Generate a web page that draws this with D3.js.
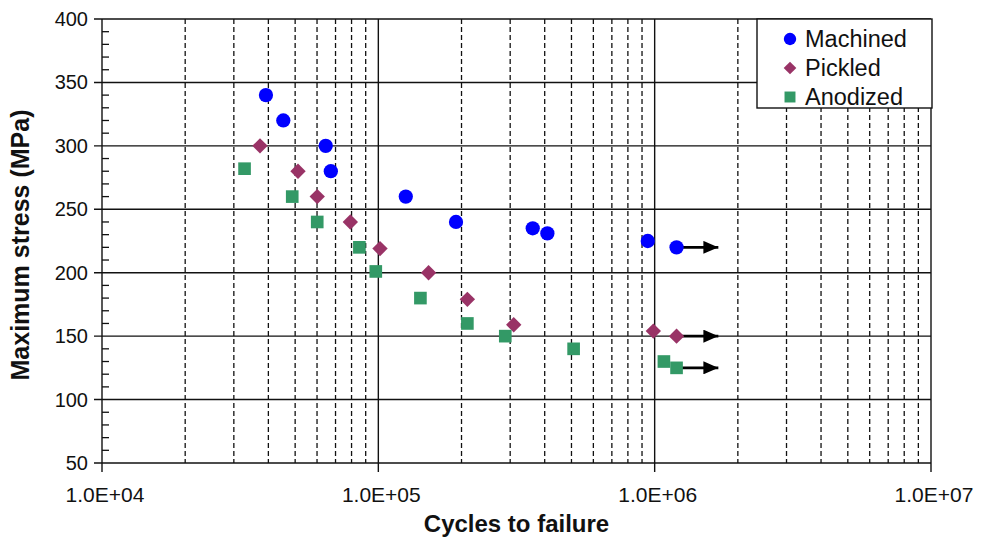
<!DOCTYPE html>
<html>
<head>
<meta charset="utf-8">
<script src="https://cdn.jsdelivr.net/npm/d3@7"></script>
<style>
  body { margin: 0; background: #fff; }
  text { font-family: Arial, "Liberation Sans", sans-serif; fill: #111; }
</style>
</head>
<body>
<script>
// data (cycles to failure, max stress in MPa)
let machinedCycles = [39200, 45300, 64500, 67300, 125700, 191000, 362000, 409000, 944000, 1200000];
let machinedStress = [340, 320, 300, 280, 260, 240, 235, 231, 225, 220];

let pickledCycles = [37300, 51200, 60100, 79200, 101400, 152000, 210000, 309000, 989000, 1200000];
let pickledStress = [300, 280, 260, 240, 219, 200, 179, 159, 154, 150];

let anodizedCycles = [32800, 48800, 60100, 85400, 97900, 142000, 210000, 288000, 509000, 1080000, 1200000];
let anodizedStress = [282, 260, 240, 220, 201, 180, 160, 150, 140, 130, 125];

// run-outs (no failure) get an arrow to the right
let runoutSeries = ["Machined", "Pickled", "Anodized"];
let runoutCycles = [1200000, 1200000, 1200000];
let runoutStress = [220, 150, 125];
let arrowTo = 1700000;

let seriesNames = ["Machined", "Pickled", "Anodized"];
let seriesColors = ["#0000ff", "#993366", "#339966"];

let xTickLabels = ["1.0E+04", "1.0E+05", "1.0E+06", "1.0E+07"];
let yTicks = [50, 100, 150, 200, 250, 300, 350, 400];

// Define SVG area dimensions
let svgWidth = 981;
let svgHeight = 542;

let chartMargin = { top: 19, right: 50, bottom: 79, left: 102 };
let chartWidth = svgWidth - chartMargin.left - chartMargin.right;
let chartHeight = svgHeight - chartMargin.top - chartMargin.bottom;

let svg = d3.select("body")
  .append("svg")
  .attr("width", svgWidth)
  .attr("height", svgHeight);

let chartGroup = svg.append("g")
  .attr("transform", `translate(${chartMargin.left}, ${chartMargin.top})`);

let xScale = d3.scaleLog().domain([1e4, 1e7]).range([0, chartWidth]);
let yScale = d3.scaleLinear().domain([50, 400]).range([chartHeight, 0]);

// marker shapes: circle, diamond (square turned 45deg), square
function markerPath(k, size) {
  if (k === 0) return d3.symbol().type(d3.symbolCircle).size(size)();
  return d3.symbol().type(d3.symbolSquare).size(size)();
}
let markerRotate = [0, 45, 0];

// dashed minor grid (2..9 in each decade)
let minorX = xScale.ticks().filter(d => Math.abs(Math.log10(d) - Math.round(Math.log10(d))) > 1e-6);
let decades = [1e4, 1e5, 1e6, 1e7];

chartGroup.append("g")
  .selectAll("line")
  .data(minorX)
  .enter()
  .append("line")
  .attr("x1", d => xScale(d)).attr("x2", d => xScale(d))
  .attr("y1", 0).attr("y2", chartHeight)
  .attr("stroke", "#111")
  .attr("stroke-width", 1.3)
  .attr("stroke-dasharray", "5,3");

// solid grid lines
chartGroup.append("g")
  .selectAll("line")
  .data(yTicks)
  .enter()
  .append("line")
  .attr("x1", -8).attr("x2", chartWidth)
  .attr("y1", d => yScale(d)).attr("y2", d => yScale(d))
  .attr("stroke", "#111")
  .attr("stroke-width", 1.4);

chartGroup.append("g")
  .selectAll("line")
  .data(decades)
  .enter()
  .append("line")
  .attr("x1", d => xScale(d)).attr("x2", d => xScale(d))
  .attr("y1", 0).attr("y2", chartHeight + 9)
  .attr("stroke", "#111")
  .attr("stroke-width", 1.4);

// minor y ticks inside the left axis
let minorY = d3.range(60, 400, 10).filter(d => d % 50 !== 0);
chartGroup.append("g")
  .selectAll("line")
  .data(minorY)
  .enter()
  .append("line")
  .attr("x1", 0).attr("x2", 7)
  .attr("y1", d => yScale(d)).attr("y2", d => yScale(d))
  .attr("stroke", "#111")
  .attr("stroke-width", 1.3);

// tick labels
chartGroup.append("g")
  .selectAll("text")
  .data(yTicks)
  .enter()
  .append("text")
  .attr("x", -14)
  .attr("y", d => yScale(d))
  .attr("dy", "0.35em")
  .attr("text-anchor", "end")
  .style("font-size", "20px")
  .text(d => d);

chartGroup.append("g")
  .selectAll("text")
  .data(decades)
  .enter()
  .append("text")
  .attr("x", d => xScale(d) + 3)
  .attr("y", chartHeight + 39)
  .attr("text-anchor", "middle")
  .style("font-size", "21px")
  .text((d, i) => xTickLabels[i]);

// axis titles
svg.append("text")
  .attr("x", chartMargin.left + chartWidth / 2)
  .attr("y", 532)
  .attr("text-anchor", "middle")
  .style("font-size", "24px")
  .style("font-weight", "bold")
  .text("Cycles to failure");

svg.append("text")
  .attr("transform", `translate(29, ${chartMargin.top + chartHeight / 2 + 4}) rotate(-90)`)
  .attr("text-anchor", "middle")
  .style("font-size", "25px")
  .style("font-weight", "bold")
  .text("Maximum stress (MPa)");

// arrow head
svg.append("defs").append("marker")
  .attr("id", "arrowhead")
  .attr("viewBox", "0 0 15 13")
  .attr("refX", 15).attr("refY", 6.5)
  .attr("markerWidth", 15).attr("markerHeight", 13)
  .attr("markerUnits", "userSpaceOnUse")
  .attr("orient", "auto")
  .append("path")
  .attr("d", "M0,0 L15,6.5 L0,13 Z")
  .attr("fill", "#000");

chartGroup.append("g")
  .selectAll("line")
  .data(runoutSeries)
  .enter()
  .append("line")
  .attr("x1", (d, i) => xScale(runoutCycles[i]))
  .attr("x2", (d, i) => xScale(arrowTo))
  .attr("y1", (d, i) => yScale(runoutStress[i]))
  .attr("y2", (d, i) => yScale(runoutStress[i]))
  .attr("stroke", "#000")
  .attr("stroke-width", 2.8)
  .attr("marker-end", "url(#arrowhead)");

// points
let allSeries = [
  { cycles: machinedCycles, stress: machinedStress },
  { cycles: pickledCycles, stress: pickledStress },
  { cycles: anodizedCycles, stress: anodizedStress }
];
let symbolSizes = [160, 118, 160];

allSeries.forEach((s, k) => {
  let pts = s.cycles.map((c, i) => ({ c: c, s: s.stress[i] }));
  chartGroup.append("g")
    .selectAll("path")
    .data(pts)
    .enter()
    .append("path")
    .attr("transform", d => `translate(${xScale(d.c)}, ${yScale(d.s)}) rotate(${markerRotate[k]})`)
    .attr("d", markerPath(k, symbolSizes[k]))
    .attr("fill", seriesColors[k]);
});

// legend
let legend = svg.append("g").attr("transform", "translate(757, 19)");
legend.append("rect")
  .attr("x", 0).attr("y", 0)
  .attr("width", 175).attr("height", 89)
  .attr("fill", "#fff")
  .attr("stroke", "#111")
  .attr("stroke-width", 1.4);

let legendItems = legend.selectAll("g.item")
  .data(seriesNames)
  .enter()
  .append("g")
  .attr("transform", (d, i) => `translate(33, ${20 + i * 29})`);

legendItems.append("path")
  .attr("transform", (d, i) => `rotate(${markerRotate[i]})`)
  .attr("d", (d, i) => markerPath(i, i === 1 ? 80 : 120))
  .attr("fill", (d, i) => seriesColors[i]);

legendItems.append("text")
  .attr("x", 15)
  .attr("dy", "0.36em")
  .style("font-size", "23.5px")
  .text(d => d);
</script>
</body>
</html>
